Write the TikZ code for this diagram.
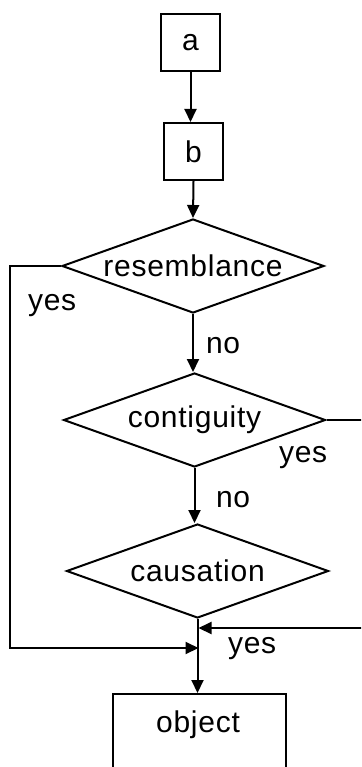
\documentclass[tikz,border=0pt]{standalone}
\usepackage{fontspec}
\setmainfont{Liberation Sans}[LetterSpace=2.5]
\usetikzlibrary{shapes.geometric,arrows.meta}
\begin{document}
\begin{tikzpicture}[x=1pt,y=-1pt,
  line width=2pt,
  every node/.style={font=\fontsize{30}{36}\selectfont, inner sep=0pt},
  flow/.style={-{Triangle[length=13pt,width=12pt]}},
  smallbox/.style={draw, minimum width=59pt, minimum height=57pt},
  test/.style={draw, diamond, aspect=2.78, minimum width=262pt, minimum height=94pt},
  lbl/.style={anchor=base west}]
\useasboundingbox (0,0) rectangle (361,767);
\clip (0,0) rectangle (361,767);

% start boxes
\node[smallbox] (a) at (190.5,42.5) {a};
\node[smallbox] (b) at (193.5,151.5) {b};

% decision chain
\node[test] (res) at (193,266) {resemblance};
\node[test] (con) at (194.5,420) {contiguity};
\node[test] (cau) at (197.5,571) {causation};

% result box, running past the lower edge
\node[draw, minimum width=173pt, minimum height=100pt, anchor=north] (obj) at (199.5,693) {};
\node[anchor=base] (objtxt) at (198,732) {object};

% main column
\draw[flow] (a.south) -- (a.south |- b.north);
\draw[flow] (b.south) -- (res.north);
\draw[flow] (res.south) -- (res.south |- con.north);
\draw[flow] (con.south) -- (con.south |- cau.north);
\draw[flow] (cau.south) -- (cau.south |- obj.north);

% side branches joining the column below causation
\coordinate (jr) at (198.5,628);
\coordinate (jl) at (198.5,648);
\coordinate (lc) at (10,266);
\coordinate (rc) at (364,420);
\draw[flow] (res.west) -- (lc) |- (jl);
\draw[flow] (con.east) -- (rc) |- (jr);

% labels
\node[lbl] (y1) at (27,310) {yes};
\node[lbl] (n1) at (205,353) {no};
\node[lbl] (y2) at (278,462) {yes};
\node[lbl] (n2) at (215,507) {no};
\node[lbl] (y3) at (227,653) {yes};
\end{tikzpicture}
\end{document}
